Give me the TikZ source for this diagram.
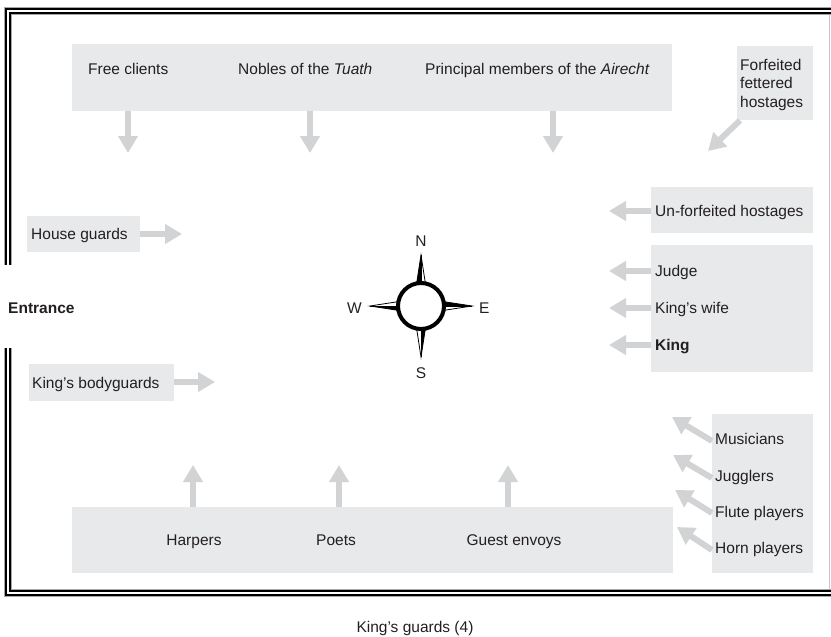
\documentclass[tikz,border=0pt]{standalone}
\usepackage{fontspec}
\setmainfont{Liberation Sans}
\usetikzlibrary{arrows.meta}
\definecolor{boxgray}{RGB}{232,233,234}
\definecolor{arrgray}{RGB}{210,211,213}
\definecolor{ink}{RGB}{35,31,32}
\begin{document}
\begin{tikzpicture}[x=1pt,y=-1pt]
    \tikzstyle{box}=[fill=boxgray, inner sep=0pt, anchor=north west]
    \tikzstyle{lbl}=[font=\fontsize{15.5}{18.3}\selectfont, text=ink, inner sep=0pt, anchor=base west]
    \tikzstyle{blk}=[draw=arrgray, line width=6pt, -{Triangle[width=19pt,length=17pt]}]
    \tikzstyle{wall}=[line join=miter]
    \useasboundingbox (0,0) rectangle (831,637);
    % walls of the hall
    \foreach \w/\c in {8/gray!70, 6/black, 2/white}{
      \draw[wall, line width=\w pt, \c] (831,11) -- (8,11) -- (8,265);
      \draw[wall, line width=\w pt, \c] (8,348) -- (8,593) -- (831,593);
    }
    \draw[gray!45, line width=0.8pt] (829.5,15) -- (829.5,589);
    % grey boxes
    \node (top) [box, minimum width=600pt, minimum height=67pt] at (72,44) {};
    \node (ffb) [box, minimum width=76pt, minimum height=74pt] at (737,46) {};
    \node (ufb) [box, minimum width=162pt, minimum height=46pt] at (651,187) {};
    \node (kgb) [box, minimum width=162pt, minimum height=127pt] at (651,245) {};
    \node (mub) [box, minimum width=101pt, minimum height=159pt] at (712,414) {};
    \node (bot) [box, minimum width=601pt, minimum height=66pt] at (72,507) {};
    \node (hgb) [box, minimum width=113pt, minimum height=36pt] at (27,216) {};
    \node (kbb) [box, minimum width=145pt, minimum height=37pt] at (29,364) {};
    % labels
    \node (fc) [lbl] at (88,74) {Free clients};
    \node (nt) [lbl] at (238,74) {Nobles of the \textit{Tuath}};
    \node (pa) [lbl] at (425,74) {Principal members of the \textit{Airecht}};
    \node (ff) [lbl, anchor=north west, align=left] at (740,59) {Forfeited\\fettered\\hostages};
    \node (uf) [lbl] at (655,216) {Un-forfeited hostages};
    \node (jd) [lbl] at (655,276) {Judge};
    \node (kw) [lbl] at (655,313) {King's wife};
    \node (kg) [lbl, font=\fontsize{15.5}{18}\selectfont\bfseries] at (655,350) {King};
    \node (mu) [lbl] at (715,444) {Musicians};
    \node (ju) [lbl] at (715,481) {Jugglers};
    \node (fp) [lbl] at (715,517) {Flute players};
    \node (hp) [lbl] at (715,553) {Horn players};
    \node (ha) [lbl, anchor=base] at (194,545) {Harpers};
    \node (po) [lbl, anchor=base] at (336,545) {Poets};
    \node (ge) [lbl, anchor=base] at (514,545) {Guest envoys};
    \node (hg) [lbl] at (31,239) {House guards};
    \node (kb) [lbl] at (32,388) {King's bodyguards};
    \node (en) [lbl, font=\fontsize{15.5}{18}\selectfont\bfseries] at (8,313) {Entrance};
    \node (kgd) [lbl, anchor=base] at (415,632) {King's guards (4)};
    % arrow tips
    \coordinate (t1) at (128,153);
    \coordinate (t2) at (310,153);
    \coordinate (t3) at (553,153);
    \coordinate (t4) at (708,151);
    \coordinate (t5) at (609,211);
    \coordinate (t6) at (609,271);
    \coordinate (t7) at (609,308);
    \coordinate (t8) at (609,345);
    \coordinate (t9) at (672,417);
    \coordinate (t10) at (673,455);
    \coordinate (t11) at (675,490);
    \coordinate (t12) at (677,527);
    \coordinate (t13) at (193,465);
    \coordinate (t14) at (339,465);
    \coordinate (t15) at (508,465);
    \coordinate (t16) at (182,234);
    \coordinate (t17) at (215,382);
    % arrows
    \draw[blk] (top.south -| t1) -- (t1);
    \draw[blk] (top.south -| t2) -- (t2);
    \draw[blk] (top.south -| t3) -- (t3);
    \draw[blk] ([xshift=3pt]ffb.south west) -- (t4);
    \draw[blk] (ufb.west |- t5) -- (t5);
    \draw[blk] (kgb.west |- t6) -- (t6);
    \draw[blk] (kgb.west |- t7) -- (t7);
    \draw[blk] (kgb.west |- t8) -- (t8);
    \draw[blk] ([yshift=-24pt]mub.west |- t9) -- (t9);
    \draw[blk] ([yshift=-23pt]mub.west |- t10) -- (t10);
    \draw[blk] ([yshift=-23pt]mub.west |- t11) -- (t11);
    \draw[blk] ([yshift=-23pt]mub.west |- t12) -- (t12);
    \draw[blk] (bot.north -| t13) -- (t13);
    \draw[blk] (bot.north -| t14) -- (t14);
    \draw[blk] (bot.north -| t15) -- (t15);
    \draw[blk] (hgb.east |- t16) -- (t16);
    \draw[blk] (kbb.east |- t17) -- (t17);
    % compass
    \begin{scope}[shift={(421,306)},y=1pt]
      \foreach \a in {0,90,180,270}{
        \fill[black] (\a:20) -- (\a+11:23) -- (\a:51) -- cycle;
        \draw[black, line width=0.8pt, line join=miter] (\a+11:23) -- (\a:51) -- (\a-11:23);
        \draw[black, line width=0.5pt] (\a:22) -- (\a:51);
      }
      \draw[black, line width=4pt, fill=white] (0,0) circle (23);
    \end{scope}
    \node (cn) [lbl, anchor=base] at (421,246) {N};
    \node (cs) [lbl, anchor=base] at (421,378) {S};
    \node (ce) [lbl] at (479,313) {E};
    \node (cw) [lbl] at (347,313) {W};
\end{tikzpicture}
\end{document}
